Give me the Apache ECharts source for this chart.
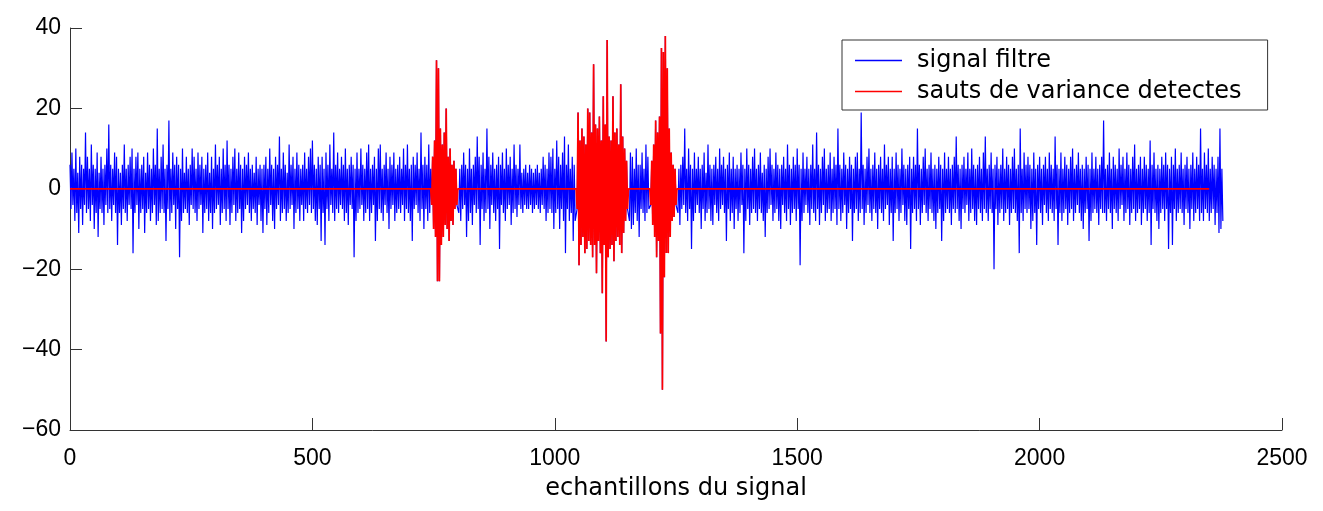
<!DOCTYPE html>
<html><head><meta charset="utf-8">
<script src="https://cdn.jsdelivr.net/npm/echarts@6/dist/echarts.min.js"></script>
<style>html,body{margin:0;padding:0;background:#fff}#c{width:1323px;height:511px}</style>
</head><body><div id="c"></div>
<script>
// ---- data read (estimated) from the picture: one value every 2 samples ----
const seg1 = [ // samples 0..744
  6,-5,9,-4,5,-8,10,-6,4,-11,8,-5,6,-9,5,-4,14,-6,8,-5,
  5,-8,11,-4,6,-10,5,-6,9,-12,4,-5,8,-6,5,-9,6,-4,10,-6,
  16,-5,6,-8,5,-4,9,-6,8,-14,5,-6,4,-9,6,-5,11,-6,5,-8,
  6,-4,8,-5,10,-16,5,-6,8,-4,9,-10,5,-6,6,-5,8,-11,4,-6,
  9,-5,6,-8,5,-6,10,-4,6,-9,15,-8,5,-6,8,-5,11,-6,5,-13,
  6,-5,17,-8,5,-6,9,-4,6,-10,8,-5,6,-17,5,-8,10,-6,4,-5,
  8,-6,5,-9,6,-4,10,-5,8,-6,5,-8,9,-5,6,-4,8,-11,5,-6,
  6,-5,9,-8,4,-6,8,-10,5,-6,11,-5,6,-4,8,-9,5,-6,10,-5,
  6,-8,12,-5,6,-9,5,-6,8,-4,10,-8,5,-6,9,-5,6,-11,5,-8,
  8,-5,6,-4,9,-6,5,-8,6,-5,4,-6,8,-9,5,-4,6,-8,5,-11,
  6,-5,8,-9,5,-6,10,-4,6,-8,5,-10,8,-5,6,-4,13,-8,5,-6,
  9,-5,6,-8,4,-6,11,-5,6,-4,8,-10,5,-6,9,-5,6,-8,5,-4,
  6,-8,9,-5,5,-6,8,-4,10,-6,12,-5,6,-8,5,-9,8,-5,6,-13,
  8,-6,5,-14,9,-5,6,-8,11,-4,5,-6,14,-8,6,-5,9,-6,5,-4,
  8,-5,6,-8,10,-6,5,-9,6,-4,8,-5,6,-17,5,-8,9,-6,5,-5,
  10,-4,6,-8,5,-6,9,-5,11,-8,5,-6,6,-4,8,-13,5,-8,10,-5,
  11,-6,5,-8,6,-4,9,-6,5,-10,8,-5,6,-4,9,-8,5,-6,6,-5,
  8,-6,5,-4,10,-8,6,-5,11,-6,5,-8,6,-13,8,-5,6,-4,9,-6,
  5,-8,14,-5,6,-10,8,-5,6,-8,11,-6,5
];
const burst1 = [ // samples 746..798 (detected)
  -4,8,-10,12,-12,32,-23,30,-23,15,-14,11,-12,14,-9,20,-10,8,-13,10,-8,6,-9,7,-5,5,-4
];
const seg2 = [ // samples 802..1042
  -6,5,-8,6,-5,9,-4,6,-12,5,-8,10,-6,5,-9,6,-4,8,-6,13,
  -5,8,-14,6,-5,9,-8,5,-6,15,-5,8,-10,6,-4,9,-6,5,-8,6,
  -5,8,-15,6,-4,9,-6,5,-8,10,-5,6,-4,8,-9,5,-6,11,-5,6,
  -7,5,-4,11,-5,4,-6,5,-4,6,-5,4,-5,6,-4,5,-6,4,-5,5,
  -4,6,-5,4,-6,5,-4,8,-5,6,-8,5,-6,9,-5,8,-6,10,-10,5,
  -6,12,-5,8,-10,6,-5,9,-8,13,-16,6,-5,11,-8,5,-6,8,-13,6,
  -8
];
const burst2 = [ // samples 1046..1150 (detected)
  -5,19,-19,12,-14,15,-12,13,-16,11,
  -15,20,-13,19,-14,14,-17,31,-14,16,
  -21,15,-13,18,-16,12,-26,23,-14,16,
  -38,37,-17,13,-15,12,-14,23,-18,14,
  -13,15,-12,11,-14,26,-16,13,-11,10,
  -8,7,-5
];
const seg3 = [ // samples 1154..1194
  -8,9,-10,8,-9,5,-6,10,-8,6,-12,6,-5,9,-6,5,-8,11,-6,8,-5
];
const burst3 = [ // samples 1198..1250 (detected)
  -4,7,-9,11,-12,17,-17,14,-13,18,
  -36,35,-50,34,-22,38,-16,30,-16,15,
  -12,9,-8,6,-7,5,-4
];
const seg4 = [ // samples 1254..2378
  -6,5,-9,6,-5,8,-4,15,-6,5,-8,10,-5,6,-15,5,-8,9,-6,5,
  -4,8,-6,5,-10,6,-5,9,-8,4,-6,11,-5,6,-8,5,-9,6,-4,8,
  -6,5,-8,10,-5,6,-4,8,-6,5,-13,6,-5,9,-8,5,-6,8,-10,5,
  -5,6,-8,5,-6,9,-4,6,-16,5,-8,10,-5,6,-9,5,-6,8,-5,10,
  -6,5,-8,6,-5,9,-6,4,-8,6,-12,5,-6,8,-5,10,-4,6,-8,5,
  -6,9,-5,6,-8,5,-10,6,-4,8,-6,5,-8,11,-5,6,-9,5,-6,8,
  -5,6,-8,10,-5,6,-19,5,-8,9,-6,5,-4,8,-6,5,-9,6,-5,11,
  -6,5,-8,14,-5,6,-9,5,-6,8,-4,10,-8,5,-6,6,-5,9,-8,5,
  -6,8,-5,6,-9,15,-5,6,-8,5,-6,9,-4,6,-10,5,-6,8,-5,6,
  -13,5,-6,8,-5,9,-8,5,-6,19,-5,6,-9,5,-6,8,-4,10,-6,5,
  -8,6,-5,9,-6,5,-10,6,-5,8,-6,5,-8,11,-5,6,-4,8,-9,5,
  -6,8,-13,5,-6,9,-5,6,-8,5,-6,10,-4,6,-8,5,-9,6,-5,8,
  -15,5,-6,8,-5,6,-8,15,-5,6,-9,5,-6,8,-4,10,-6,5,-8,6,
  -5,9,-6,5,-8,6,-10,5,-6,8,-5,6,-13,5,-8,9,-6,5,-5,8,
  -6,5,-9,6,-5,8,-6,13,-5,6,-8,5,-10,6,-5,8,-6,5,-4,9,
  -8,5,-6,10,-5,6,-8,5,-9,6,-5,8,-6,5,-8,9,-5,13,-6,5,
  -8,6,-5,9,-6,5,-20,6,-5,8,-9,5,-6,6,-5,10,-8,5,-6,8,
  -5,6,-9,5,-6,8,-5,10,-6,5,-8,6,-16,15,-6,5,-8,9,-5,6,
  -6,8,-5,6,-10,5,-8,9,-6,5,-14,6,-5,8,-6,5,-9,6,-4,8,
  -6,5,-8,9,-5,6,-6,5,-8,13,-5,6,-14,5,-6,9,-8,5,-6,8,
  -5,6,-9,5,-6,8,-5,10,-8,5,-6,6,-4,9,-6,5,-8,6,-10,5,
  -6,8,-5,6,-13,5,-8,9,-6,5,-5,8,-6,5,-9,6,-5,8,-6,17,
  -6,5,-8,6,-5,9,-6,5,-10,8,-5,6,-6,5,-8,10,-5,6,-4,8,
  -8,5,-6,9,-5,6,-9,5,-6,8,-5,11,-8,5,-6,6,-5,8,-9,5,
  -6,8,-5,6,-8,5,-6,12,-14,6,-5,9,-6,5,-8,6,-10,5,-6,8,
  -5,6,-8,9,-5,6,-15,5,-6,8,-14,6,-5,10,-8,5,-6,6,-5,9,
  -6,5,-9,6,-5,8,-6,5,-10,6,-5,9,-8,5,-6,8,-5,6,-8,15,
  -6,5,-8,9,-5,6,-6,10,-8,5,-6,8,-5,6,-9,5,-6,8,-11,15,
  -10,5,-8
];
const SAMPLE_STEP = 2;
// [first sample, values]
const pieces = [[0,seg1],[746,burst1],[802,seg2],[1046,burst2],[1154,seg3],[1198,burst3],[1254,seg4]];
const detected = [[746,burst1],[1046,burst2],[1198,burst3]];
const redLastSample = 2350;
const xTicks = {min:0, max:2500, step:500};
const yTicks = {min:-60, max:40, step:20};
const seriesNames = ['signal filtre','sauts de variance detectes'];
const xName = 'echantillons du signal';

function toPairs(start, arr){ return arr.map((v,i)=>[start+i*SAMPLE_STEP, v]); }
const blueData = [];
pieces.forEach(p=>blueData.push(...toPairs(p[0],p[1])));
const redData = [[0,0]];
detected.forEach(p=>{
  const pts = toPairs(p[0],p[1]);
  redData.push([p[0]-SAMPLE_STEP,0]);
  redData.push(...pts);
  redData.push([pts[pts.length-1][0]+SAMPLE_STEP,0]);
});
redData.push([redLastSample,0]);

const NUMFONT = 'Liberation Sans';
const TXTFONT = 'DejaVu Sans';
const axisCol = '#333';
const chart = echarts.init(document.getElementById('c'), null, {renderer:'canvas'});
chart.setOption({
  animation:false,
  backgroundColor:'#fff',
  grid:{left:70,right:41,top:28,bottom:81,containLabel:false},
  xAxis:{type:'value',min:xTicks.min,max:xTicks.max,interval:xTicks.step,
    name:xName,nameLocation:'middle',nameGap:47,
    nameTextStyle:{fontFamily:TXTFONT,fontSize:24,color:'#000'},
    axisLine:{onZero:false,lineStyle:{color:axisCol,width:1}},
    axisTick:{inside:true,length:12,lineStyle:{color:axisCol}},
    axisLabel:{fontFamily:NUMFONT,fontSize:23,color:'#000',margin:17,
      formatter:v=>String(v)},
    splitLine:{show:false}},
  yAxis:{type:'value',min:yTicks.min,max:yTicks.max,interval:yTicks.step,
    axisLine:{show:true,onZero:false,lineStyle:{color:axisCol,width:1}},
    axisTick:{show:true,inside:true,length:12,lineStyle:{color:axisCol}},
    axisLabel:{fontFamily:NUMFONT,fontSize:23,color:'#000',margin:9,
      formatter:v=>String(v).replace('-','\u2212')},
    splitLine:{show:false}},
  legend:{left:842,top:40,orient:'vertical',
    padding:[5,26,3,13],
    borderColor:'#333',borderWidth:1,backgroundColor:'#fff',borderRadius:0,
    itemWidth:47,itemHeight:1.5,itemGap:0,icon:'rect',
    textStyle:{fontFamily:TXTFONT,fontSize:24,color:'#000',lineHeight:31,padding:[0,0,0,10]},
    data:seriesNames},
  series:[
    {name:seriesNames[0],type:'line',data:blueData,symbol:'none',showSymbol:false,
     lineStyle:{color:'#0000ff',width:1.2},itemStyle:{color:'#0000ff'},silent:true,z:2},
    {name:seriesNames[1],type:'line',data:redData,symbol:'none',showSymbol:false,
     lineStyle:{color:'#ff0000',width:1.7},itemStyle:{color:'#ff0000'},silent:true,z:3}
  ]
});
</script></body></html>
